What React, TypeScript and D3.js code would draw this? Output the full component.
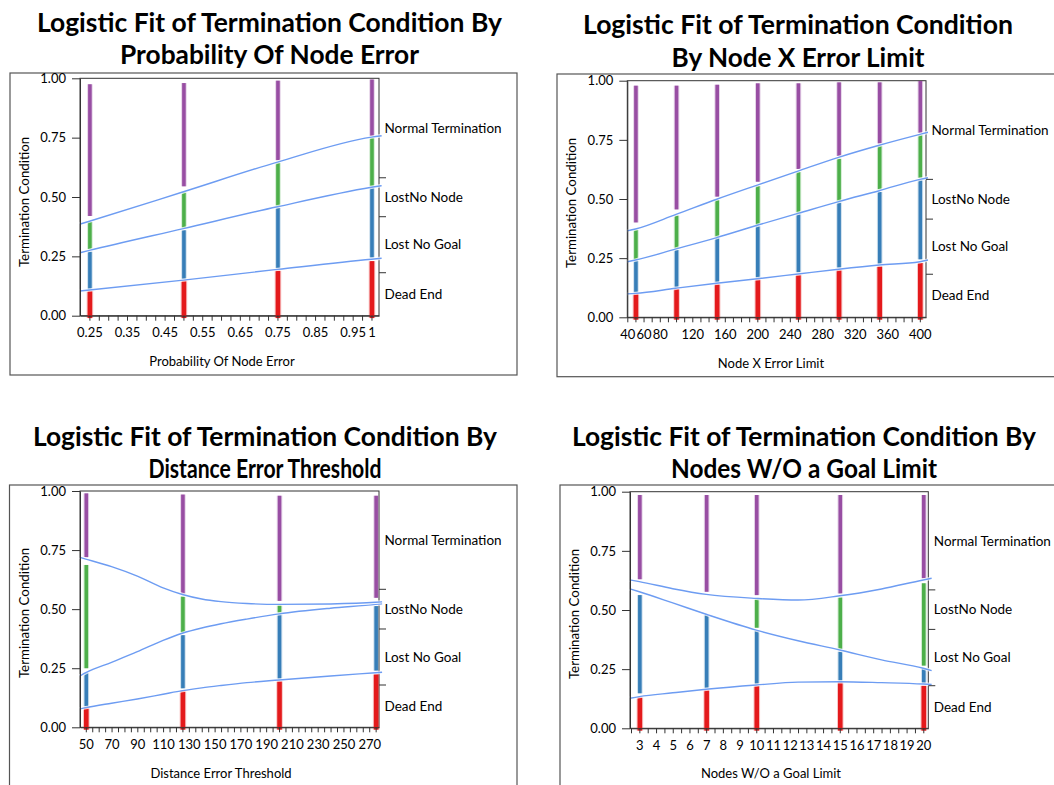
import { useEffect, useRef } from "react";
import * as d3 from "d3";

const W = 1054;
const H = 785;

const categories = ["Dead End", "Lost No Goal", "LostNo Node", "Normal Termination"];
const catColors = ["#e41a1c", "#377eb8", "#4daf4a", "#984ea3"];

// ---- panel 1: Probability Of Node Error
const p1Levels = [0.25, 0.5, 0.75, 1.0];
const p1CurveX = [0.225, 0.25, 0.5, 0.75, 1.0, 1.027];
const p1Upper = [0.386, 0.398, 0.522, 0.647, 0.752, 0.758];
const p1Middle = [0.265, 0.275, 0.367, 0.459, 0.541, 0.548];
const p1Lower = [0.104, 0.108, 0.15, 0.195, 0.238, 0.242];
const p1Dead = [[-0.01, 0.105], [-0.01, 0.15], [-0.01, 0.19], [-0.01, 0.23]];
const p1Goal = [[0.11, 0.27], [0.155, 0.36], [0.2, 0.455], [0.245, 0.54]];
const p1Node = [[0.28, 0.395], [0.37, 0.52], [0.46, 0.645], [0.545, 0.75]];
const p1Normal = [[0.42, 0.975], [0.545, 0.98], [0.655, 0.99], [0.757, 0.995]];
const p1RightTicks = [0.181, 0.417, 0.581];
const p1XLabels = [0.25, 0.35, 0.45, 0.55, 0.65, 0.75, 0.85, 0.95, 1];

// ---- panel 2: Node X Error Limit
const p2Levels = [50, 100, 150, 200, 250, 300, 350, 400];
const p2CurveX = [40, 50, 100, 150, 200, 250, 300, 350, 400, 410];
const p2Upper = [0.365, 0.373, 0.435, 0.499, 0.559, 0.618, 0.676, 0.727, 0.773, 0.782];
const p2Middle = [0.235, 0.242, 0.289, 0.337, 0.389, 0.439, 0.489, 0.535, 0.583, 0.59];
const p2Lower = [0.099, 0.101, 0.123, 0.144, 0.163, 0.183, 0.203, 0.221, 0.235, 0.242];
const p2Dead = [[-0.01, 0.1], [-0.01, 0.12], [-0.01, 0.14], [-0.01, 0.16], [-0.01, 0.18], [-0.01, 0.2], [-0.01, 0.215], [-0.01, 0.23]];
const p2Goal = [[0.105, 0.24], [0.125, 0.285], [0.147, 0.335], [0.167, 0.385], [0.19, 0.435], [0.21, 0.485], [0.225, 0.53], [0.245, 0.58]];
const p2Node = [[0.245, 0.37], [0.29, 0.43], [0.34, 0.495], [0.39, 0.555], [0.44, 0.615], [0.49, 0.67], [0.54, 0.725], [0.59, 0.77]];
const p2Normal = [[0.401, 0.979], [0.456, 0.979], [0.51, 0.983], [0.573, 0.989], [0.627, 0.989], [0.682, 0.993], [0.735, 0.993], [0.78, 0.999]];
const p2RightTicks = [0.182, 0.415, 0.583];
const p2XLabels = [40, 60, 80, 120, 160, 200, 240, 280, 320, 360, 400];

// ---- panel 3: Distance Error Threshold
const p3Levels = [50, 125, 200, 275];
const p3CurveX = [45.5, 50, 70, 90, 110, 125, 140, 155, 175, 200, 240, 275, 280];
const p3Upper = [0.719, 0.712, 0.68, 0.64, 0.59, 0.562, 0.543, 0.532, 0.524, 0.52, 0.522, 0.529, 0.531];
const p3Middle = [0.217, 0.231, 0.275, 0.32, 0.368, 0.398, 0.42, 0.438, 0.458, 0.48, 0.504, 0.52, 0.523];
const p3Lower = [0.078, 0.083, 0.102, 0.12, 0.14, 0.155, 0.167, 0.177, 0.189, 0.2, 0.217, 0.231, 0.233];
const p3Dead = [[-0.01, 0.085], [-0.01, 0.155], [-0.01, 0.195], [-0.01, 0.225]];
const p3Goal = [[0.088, 0.232], [0.165, 0.39], [0.205, 0.478], [0.24, 0.513]];
const p3Node = [[0.25, 0.687], [0.4, 0.553], [0.485, 0.52], null];
const p3Normal = [[0.72, 0.99], [0.565, 0.985], [0.535, 0.98], [0.548, 0.98]];
const p3RightTicks = [0.179, 0.416, 0.584];
const p3XLabels = [50, 70, 90, 110, 130, 150, 170, 190, 210, 230, 250, 270];

// ---- panel 4: Nodes W/O a Goal Limit
const p4Levels = [3, 7, 10, 15, 20];
const p4CurveX = [2.44, 3, 5, 7, 10, 12.5, 15, 17.5, 20, 20.5];
const p4Upper = [0.627, 0.62, 0.59, 0.566, 0.549, 0.542, 0.56, 0.589, 0.627, 0.634];
const p4Middle = [0.589, 0.577, 0.53, 0.482, 0.415, 0.37, 0.331, 0.289, 0.254, 0.244];
const p4Lower = [0.127, 0.134, 0.15, 0.165, 0.183, 0.195, 0.197, 0.193, 0.187, 0.185];
const p4Dead = [[-0.01, 0.131], [-0.01, 0.162], [-0.01, 0.18], [-0.01, 0.197], [-0.01, 0.18]];
const p4Goal = [[0.148, 0.563], [0.17, 0.478], [0.187, 0.413], [0.2, 0.324], [0.19, 0.254]];
const p4Node = [null, null, [0.425, 0.546], [0.335, 0.553], [0.265, 0.613]];
const p4Normal = [[0.63, 0.986], [0.577, 0.986], [0.563, 0.986], [0.57, 0.986], [0.634, 0.986]];
const p4RightTicks = [0.18, 0.418, 0.585];
const p4XLabels = [3, 4, 5, 6, 7, 8, 9, 10, 11, 12, 13, 14, 15, 16, 17, 18, 19, 20];

const yTicks = [0, 0.25, 0.5, 0.75, 1];

const panels = [
  {
    title: ["Logistic Fit of Termination Condition By", "Probability Of Node Error"],
    titleX: 269.5, titleY: [32, 64], titleW: [465, 299],
    frame: [10, 73, 507, 302],
    plot: { l: 80, r: 379, t: 78.3, b: 315.7 },
    xDomain: [0.225, 1.02], minor: [0.25, 1.0, 0.025],
    xLabels: p1XLabels, xTitle: "Probability Of Node Error",
    xTitlePos: [222, 366], yTitlePos: [29, 202],
    levels: p1Levels, curveX: p1CurveX, curves: [p1Lower, p1Middle, p1Upper],
    bands: [p1Dead, p1Goal, p1Node, p1Normal], rightTicks: p1RightTicks,
  },
  {
    title: ["Logistic Fit of Termination Condition", "By Node X Error Limit"],
    titleX: 798, titleY: [34, 66.5], titleW: [430, 253],
    frame: [557, 74, 510, 302.7],
    plot: { l: 627.3, r: 926, t: 80.7, b: 317.3 },
    xDomain: [40, 407.6], minor: [40, 400, 10],
    xLabels: p2XLabels, xTitle: "Node X Error Limit",
    xTitlePos: [771, 367.5], yTitlePos: [576, 203],
    levels: p2Levels, curveX: p2CurveX, curves: [p2Lower, p2Middle, p2Upper],
    bands: [p2Dead, p2Goal, p2Node, p2Normal], rightTicks: p2RightTicks,
  },
  {
    title: ["Logistic Fit of Termination Condition By", "Distance Error Threshold"],
    titleX: 265, titleY: [446, 477.5], titleW: [464, 233],
    frame: [9.5, 485, 507.5, 320],
    plot: { l: 80, r: 379, t: 491, b: 727.3 },
    xDomain: [45.5, 277.6], minor: [50, 275, 5],
    xLabels: p3XLabels, xTitle: "Distance Error Threshold",
    xTitlePos: [221, 778], yTitlePos: [29, 613],
    levels: p3Levels, curveX: p3CurveX, curves: [p3Lower, p3Middle, p3Upper],
    bands: [p3Dead, p3Goal, p3Node, p3Normal], rightTicks: p3RightTicks,
  },
  {
    title: ["Logistic Fit of Termination Condition By", "Nodes W/O a Goal Limit"],
    titleX: 804, titleY: [446, 477.5], titleW: [464, 266],
    frame: [560, 485, 510, 320],
    plot: { l: 630, r: 928.3, t: 491.7, b: 728.3 },
    xDomain: [2.44, 20.3], minor: [2.5, 20, 0.5],
    xLabels: p4XLabels, xTitle: "Nodes W/O a Goal Limit",
    xTitlePos: [771, 778], yTitlePos: [579, 614],
    levels: p4Levels, curveX: p4CurveX, curves: [p4Lower, p4Middle, p4Upper],
    bands: [p4Dead, p4Goal, p4Node, p4Normal], rightTicks: p4RightTicks,
  },
];

const FONT = "Lato, 'Open Sans', sans-serif";

function drawPanel(svg: any, p: any) {
  const g = svg.append("g");
  const { l, r, t, b } = p.plot;

  // outer frame
  g.append("rect")
    .attr("x", p.frame[0]).attr("y", p.frame[1])
    .attr("width", p.frame[2]).attr("height", p.frame[3])
    .attr("fill", "none").attr("stroke", "#555").attr("stroke-width", 1.2);

  // title
  p.title.forEach((s: string, i: number) => {
    g.append("text")
      .attr("x", p.titleX).attr("y", p.titleY[i])
      .attr("text-anchor", "middle")
      .attr("font-family", FONT).attr("font-weight", 700).attr("font-size", 27.5)
      .attr("textLength", p.titleW[i]).attr("lengthAdjust", "spacingAndGlyphs")
      .attr("fill", "#000")
      .text(s);
  });

  const x = d3.scaleLinear().domain(p.xDomain).range([l, r]);
  const y = d3.scaleLinear().domain([0, 1]).range([b, t]);

  // plot border (top / right)
  g.append("rect")
    .attr("x", l).attr("y", t).attr("width", r - l).attr("height", b - t)
    .attr("fill", "none").attr("stroke", "#333").attr("stroke-width", 1);

  // jittered point bands
  p.bands.forEach((band: any[], ci: number) => {
    const w = ci === 0 ? 4.6 : 3.6;
    band.forEach((rng: number[] | null, i: number) => {
      if (!rng) return;
      const cx = x(p.levels[i]) + 0.5;
      g.append("line")
        .attr("x1", cx).attr("x2", cx).attr("y1", y(rng[0])).attr("y2", y(rng[1]))
        .attr("stroke", catColors[ci]).attr("stroke-opacity", 0.25)
        .attr("stroke-width", w + 2);
      g.append("line")
        .attr("x1", cx).attr("x2", cx).attr("y1", y(rng[0])).attr("y2", y(rng[1]))
        .attr("stroke", catColors[ci]).attr("stroke-width", w);
    });
  });

  // fitted cumulative probability curves
  const line = d3.line<number>()
    .x((_d, i) => x(p.curveX[i]))
    .y((d) => y(d))
    .curve(d3.curveMonotoneX);
  p.curves.forEach((c: number[]) => {
    g.append("path").attr("d", line(c)).attr("fill", "none")
      .attr("stroke", "#fff").attr("stroke-opacity", 0.75).attr("stroke-width", 3.4);
    g.append("path").attr("d", line(c)).attr("fill", "none")
      .attr("stroke", "#6d9cf2").attr("stroke-width", 1.4);
  });

  // y axis
  const yAxis = g.append("g").attr("transform", `translate(${l},0)`)
    .call(d3.axisLeft(y).tickValues(yTicks).tickFormat(d3.format(".2f"))
      .tickSize(8).tickPadding(6).tickSizeOuter(0));
  yAxis.selectAll("text").attr("font-family", FONT).attr("font-size", 13).attr("fill", "#000");
  yAxis.selectAll("line,path").attr("stroke", "#333");

  // x axis
  const minorTicks = d3.range(p.minor[0], p.minor[1] + p.minor[2] / 2, p.minor[2]);
  const fmt = (v: number) => {
    const m = p.xLabels.find((lv: number) => Math.abs(lv - v) < p.minor[2] / 10);
    return m === undefined ? "" : String(m);
  };
  const xAxis = g.append("g").attr("transform", `translate(0,${b})`)
    .call(d3.axisBottom(x).tickValues(minorTicks).tickFormat(fmt as any)
      .tickSize(5).tickPadding(7).tickSizeOuter(0));
  xAxis.selectAll("text").attr("font-family", FONT).attr("font-size", 13).attr("fill", "#000");
  xAxis.selectAll("line,path").attr("stroke", "#333");

  // right category axis
  p.rightTicks.forEach((v: number) => {
    g.append("line").attr("x1", r).attr("x2", r + 7).attr("y1", y(v)).attr("y2", y(v))
      .attr("stroke", "#333");
  });
  const bounds = [0, ...p.rightTicks, 1];
  categories.forEach((c, i) => {
    g.append("text")
      .attr("x", r + 5.5).attr("y", y((bounds[i] + bounds[i + 1]) / 2))
      .attr("dy", "0.35em")
      .attr("font-family", FONT).attr("font-size", 13.5).attr("fill", "#000")
      .text(c);
  });

  // axis titles
  g.append("text")
    .attr("x", p.xTitlePos[0]).attr("y", p.xTitlePos[1])
    .attr("text-anchor", "middle")
    .attr("font-family", FONT).attr("font-size", 13).attr("fill", "#000")
    .text(p.xTitle);
  g.append("text")
    .attr("transform", `translate(${p.yTitlePos[0]},${p.yTitlePos[1]}) rotate(-90)`)
    .attr("text-anchor", "middle")
    .attr("font-family", FONT).attr("font-size", 13.3).attr("fill", "#000")
    .text("Termination Condition");
}

export default function App() {
  const ref = useRef<SVGSVGElement>(null);

  useEffect(() => {
    const svg = d3.select(ref.current);
    svg.selectAll("*").remove();
    panels.forEach((p) => drawPanel(svg, p));
  }, []);

  return (
    <svg
      ref={ref}
      width={W}
      height={H}
      style={{ position: "absolute", left: 0, top: 0, background: "#fff" }}
    />
  );
}
